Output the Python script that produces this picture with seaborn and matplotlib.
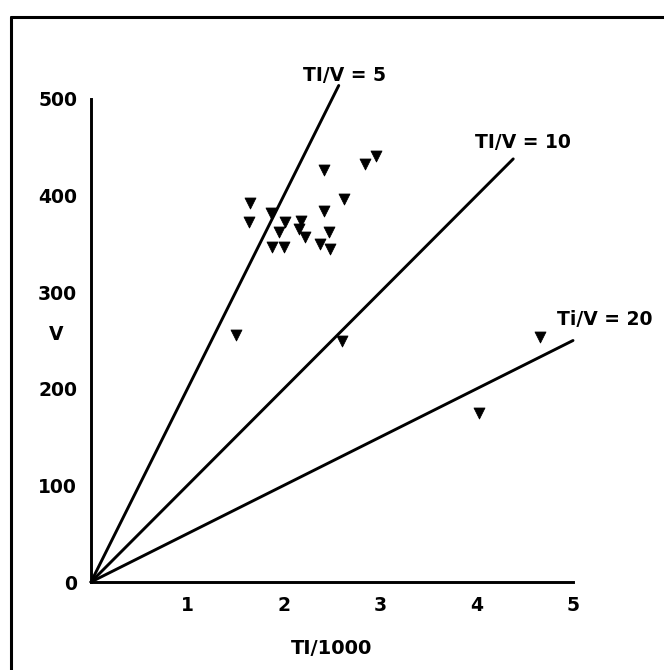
import matplotlib
matplotlib.use("Agg")
import matplotlib.pyplot as plt
from matplotlib.lines import Line2D
import seaborn as sns
import pandas as pd

# data
ti_k = [1.65, 1.64, 1.87, 1.88, 1.95, 2.01, 2.00, 2.18, 2.16, 2.22, 2.42, 2.42,
        2.38, 2.47, 2.48, 2.62, 2.84, 2.96, 1.50, 2.60, 4.03, 4.66]
v_vals = [392, 373, 382, 347, 362, 373, 347, 374, 365, 357, 426, 384,
          350, 362, 345, 396, 433, 441, 256, 249, 175, 254]

ratios = [5, 10, 20]
ratio_labels = ["TI/V = 5", "TI/V = 10", "Ti/V = 20"]
line_end_x = [2.57, 4.38, 5.0]
label_x = [2.2, 3.98, 4.83]
label_y = [524, 455, 272]

x_ticks = [1, 2, 3, 4, 5]
y_ticks = [0, 100, 200, 300, 400, 500]

sns.set_style("white")
plt.rcParams["font.family"] = ["DejaVu Sans"]
plt.rcParams["text.color"] = "black"

W, H = 664, 670
fig = plt.figure(figsize=(W / 100, H / 100), dpi=100)
x0, x5 = 91, 573
y0, y500 = 582, 99
ax = fig.add_axes([x0 / W, (H - y0) / H, (x5 - x0) / W, (y0 - y500) / H])

pts = pd.DataFrame({"x": ti_k, "v": v_vals})
sns.scatterplot(data=pts, x="x", y="v", marker="v", s=62, color="black",
                edgecolor="black", linewidth=0.6, ax=ax, zorder=3, clip_on=False)

for r, ex, lab, lx, ly in zip(ratios, line_end_x, ratio_labels, label_x, label_y):
    df = pd.DataFrame({"x": [0.0, ex], "v": [0.0, ex * 1000 / r]})
    sns.lineplot(data=df, x="x", y="v", color="black", linewidth=2.1, ax=ax,
                 clip_on=False)
    ax.text(lx, ly, lab, fontsize=13.5, fontweight="bold", ha="left",
            va="center", color="black", clip_on=False)

ax.set_xlim(0, 5)
ax.set_ylim(0, 500)
ax.set_xticks(x_ticks)
ax.set_xticklabels([str(t) for t in x_ticks])
ax.set_yticks(y_ticks)
ax.set_yticklabels([str(t) for t in y_ticks])
ax.tick_params(axis="both", direction="in", length=6, width=2.0,
               labelsize=13.5, colors="black")
ax.tick_params(axis="x", pad=10)
ax.tick_params(axis="y", pad=10)
for lbl in ax.get_xticklabels() + ax.get_yticklabels():
    lbl.set_fontweight("bold")

for s in ["top", "right"]:
    ax.spines[s].set_visible(False)
for s in ["left", "bottom"]:
    ax.spines[s].set_linewidth(2.1)
    ax.spines[s].set_color("black")

ax.set_xlabel("TI/1000", fontsize=14, fontweight="bold", labelpad=17,
              color="black")
ax.set_ylabel("V", fontsize=13.5, fontweight="bold", rotation=0,
              labelpad=0, color="black")
ax.yaxis.set_label_coords(-0.072, 246 / 500)

# outer frame (left and top edges of the scanned box)
fig.add_artist(Line2D([11 / W, 11 / W], [0, 1 - 17 / H], color="black",
                      linewidth=2.2, transform=fig.transFigure))
fig.add_artist(Line2D([11 / W, 1], [1 - 17 / H, 1 - 17 / H], color="black",
                      linewidth=2.2, transform=fig.transFigure))

fig.savefig("out.png", dpi=100, facecolor="white")
